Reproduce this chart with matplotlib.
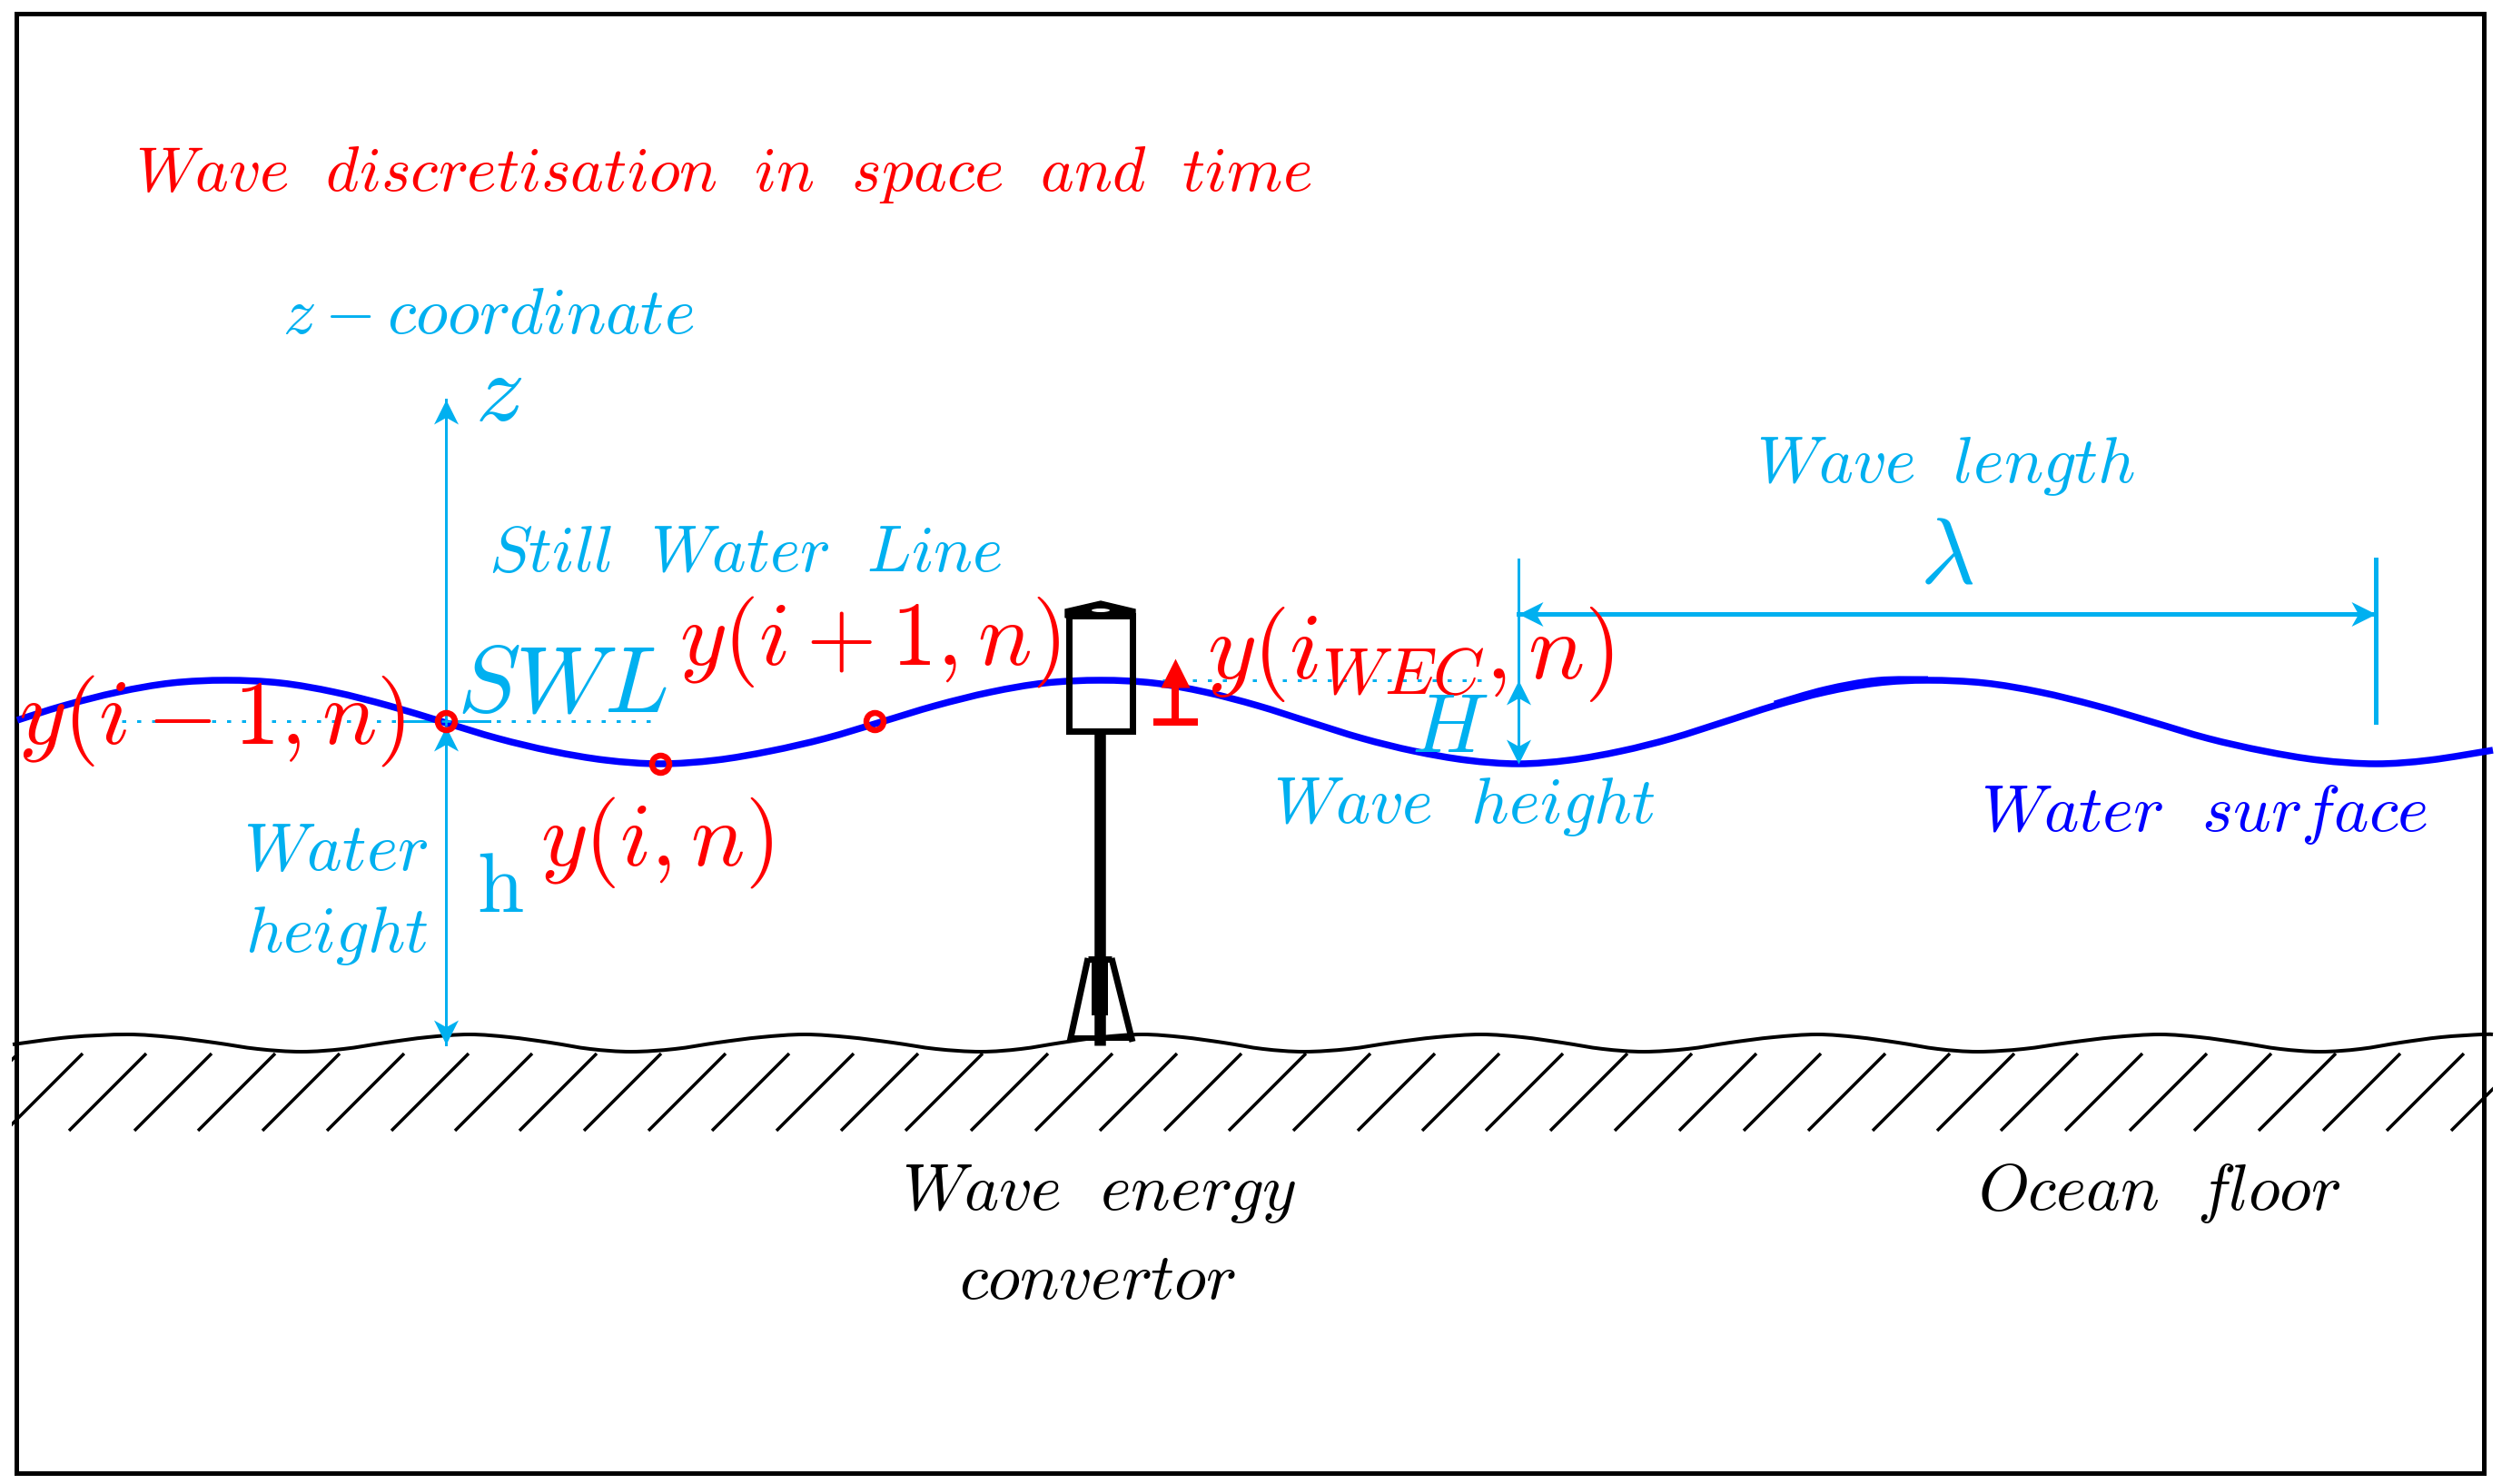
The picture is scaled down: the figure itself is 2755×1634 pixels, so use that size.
import matplotlib
matplotlib.use("Agg")
import matplotlib.pyplot as plt
from matplotlib.path import Path
from matplotlib.markers import MarkerStyle
from matplotlib.patches import Rectangle, PathPatch, Ellipse
from matplotlib.transforms import Affine2D

plt.rcParams['mathtext.fontset'] = 'cm'

CYAN = '#00B0F0'
BLUE = '#0000FF'
RED = '#FF0000'
BLACK = '#000000'

# Water surface
wave_x = [19, 70, 130, 189, 249, 309, 368, 428, 488, 548, 607, 667, 727, 788, 848, 909, 970,
          1030, 1091, 1151, 1212, 1270, 1327, 1385, 1442, 1500, 1557, 1615, 1672, 1728, 1785,
          1841, 1898, 1954, 2010, 2067, 2123, 2185, 2246, 2308, 2370, 2431, 2493, 2554, 2616,
          2675, 2745]
wave_y = [793, 777, 762, 752, 749, 752, 762, 777, 795, 813, 827, 837, 841, 837, 827, 813, 795,
          777, 762, 752, 749, 752, 762, 777, 795, 813, 827, 837, 841, 837, 827,
          813, 795, 777, 762, 752, 749, 752, 762, 777, 795, 813, 827, 837, 841,
          837, 826]
# Thickened stretch of the same curve
wave2_x = [1954, 2010, 2067, 2123]
wave2_y = [775, 759, 749, 748]

# Sea bed
floor_x = [14, 77, 140, 188, 236, 284, 332, 378, 425, 471, 517, 561, 606, 650, 695, 743, 790, 838,
           886, 934, 983, 1031, 1080, 1124, 1169, 1213, 1258, 1302, 1347, 1391, 1436, 1485, 1533,
           1582, 1631, 1676, 1720, 1765, 1810, 1858, 1905, 1953, 2001, 2045, 2090, 2134, 2178,
           2228, 2278, 2328, 2378, 2422, 2466, 2511, 2555, 2599, 2643, 2688, 2732, 2745]
floor_y = [1150, 1142, 1139, 1142, 1148, 1155, 1158, 1155, 1148, 1142, 1139, 1142, 1148, 1155, 1158, 1155, 1148, 1142,
           1139, 1142, 1148, 1155, 1158, 1155, 1148, 1142, 1139, 1142, 1148, 1155, 1158, 1155, 1148,
           1142, 1139, 1142, 1148, 1155, 1158, 1155, 1148, 1142, 1139, 1142, 1148, 1155, 1158,
           1155, 1148, 1142, 1139, 1142, 1148, 1155, 1158, 1155, 1148, 1142, 1139, 1139]
hatch_foot_x = [-65, 6, 76, 148, 218, 289, 360, 431, 501, 572, 643, 714, 784, 855, 926, 997, 1069,
                1140, 1211, 1282, 1353, 1424, 1495, 1566, 1636, 1707, 1778, 1849, 1920, 1991, 2062,
                2133, 2203, 2274, 2345, 2416, 2487, 2558, 2628, 2699]
hatch_rise = 85
hatch_foot_y = 1245

# Discretisation points on the surface
point_x = [491, 727, 963]
point_y = [794, 841, 794]

# Reference levels
crest_level = 749
still_level = 794
trough_level = 841
floor_level = 1150
lambda_y = 676
wave_start_x = 1672
wave_end_x = 2616
z_x = 491
z_top = 440

# Text: string, left, right, baseline, colour
labels = [
    (r'$Wave\ \ discretisation\ \ in\ \ space\ \ and\ \ time$', 149, 1445, 210, RED),
    (r'$z-coordinate$', 311, 765, 367, CYAN),
    (r'$z$', 523, 577, 463, CYAN),
    (r'$Still\ \ Water\ \ Line$', 538, 1104, 629, CYAN),
    (r'$SWL$', 503, 737, 783, CYAN),
    (r'$y(i+1,n)$', 748, 1169, 732, RED),
    (r'$y(i-1,n)$', 20, 448, 819, RED),
    (r'$y(i,n)$', 595, 853, 953, RED),
    (r'$\mathrm{h}$', 525, 578, 1004, CYAN),
    (r'$Water$', 268, 472, 958, CYAN),
    (r'$height$', 270, 472, 1048, CYAN),
    (r'$Wave\ \ length$', 1934, 2352, 531, CYAN),
    (r'$\lambda$', 2114, 2175, 642, CYAN),
    (r'$y(i_{WEC},n)$', 1329, 1779, 747, RED),
    (r'$H$', 1554, 1640, 828, CYAN),
    (r'$Wave\ \ height$', 1402, 1823, 906, CYAN),
    (r'$Water\ \ surface$', 2181, 2674, 915, BLUE),
    (r'$Wave\ \ energy$', 993, 1428, 1332, BLACK),
    (r'$convertor$', 1056, 1362, 1430, BLACK),
    (r'$Ocean\ \ floor$', 2178, 2578, 1332, BLACK),
]

DPI = 100
def px(v):
    return v * 72.0 / DPI

fig = plt.figure(figsize=(27.55, 16.34), dpi=DPI, facecolor='white')
ax = fig.add_axes([0, 0, 1, 1])
ax.set_xlim(0, 2755)
ax.set_ylim(1634, 0)
ax.axis('off')

# Frame
ax.add_patch(Rectangle((18, 15), 2717, 1607, fill=False, ec=BLACK, lw=px(5), zorder=1))

# Head shapes
stealth = Path([(0, 0), (-1, 0.5), (-0.72, 0), (-1, -0.5), (0, 0)],
               [Path.MOVETO, Path.LINETO, Path.LINETO, Path.LINETO, Path.CLOSEPOLY])
solid = Path([(0, 0), (-1, 0.5), (-1, -0.5), (0, 0)],
             [Path.MOVETO, Path.LINETO, Path.LINETO, Path.CLOSEPOLY])
def head(x, y, angle, color=CYAN, shape=stealth, length=27, z=3):
    ax.plot([x], [y], ls='none', color=color, mew=0, ms=px(2 * length), zorder=z,
            marker=MarkerStyle(shape, transform=Affine2D().rotate_deg(angle)))

def smooth(xs, ys, color, width, z):
    verts = [(xs[0], ys[0])]
    codes = [Path.MOVETO]
    n = len(xs)
    for i in range(n - 1):
        a, b = max(i - 1, 0), min(i + 2, n - 1)
        verts.append((xs[i] + (xs[i + 1] - xs[a]) / 6, ys[i] + (ys[i + 1] - ys[a]) / 6))
        verts.append((xs[i + 1] - (xs[b] - xs[i]) / 6, ys[i + 1] - (ys[b] - ys[i]) / 6))
        verts.append((xs[i + 1], ys[i + 1]))
        codes += [Path.CURVE4] * 3
    ax.add_patch(PathPatch(Path(verts, codes), fc='none', ec=color, lw=px(width), zorder=z))

# Sea bed and hatching
clip = Rectangle((13, 0), 2732, 1634, transform=ax.transData)
for fx in hatch_foot_x:
    ln, = ax.plot([fx, fx + hatch_rise], [hatch_foot_y, hatch_foot_y - hatch_rise],
                  color=BLACK, lw=px(3.5), solid_capstyle='butt', zorder=2)
    ln.set_clip_path(clip)
smooth(floor_x, floor_y, BLACK, 4, 2)

# Still water and crest level
ax.plot([134, 720], [still_level, still_level], color=CYAN, lw=px(3), ls=(0, (1.5, 4)), zorder=2)
ax.plot([443, 539], [still_level, still_level], color=CYAN, lw=px(3), zorder=2)
ax.plot([1247, 1643], [crest_level, crest_level], color=CYAN, lw=px(3), ls=(0, (1.5, 4)), zorder=2)

# Water surface
smooth(wave_x, wave_y, BLUE, 7.5, 4)
smooth(wave2_x, wave2_y, BLUE, 7, 4)

# z axis and water height
ax.plot([z_x, z_x], [z_top, floor_level], color=CYAN, lw=px(3), zorder=3)
head(z_x, z_top, 90)
head(z_x, still_level + 6, 90)
head(z_x, floor_level, -90)

# Wave length and wave height
ax.plot([wave_start_x, wave_end_x], [lambda_y, lambda_y], color=CYAN, lw=px(5), zorder=3)
ax.plot([wave_start_x, wave_start_x], [616, trough_level], color=CYAN, lw=px(3), zorder=3)
ax.plot([wave_end_x, wave_end_x], [616, 795], color=CYAN, lw=px(5), zorder=3)
head(wave_start_x, lambda_y, 180)
head(wave_end_x, lambda_y, 0)
head(wave_start_x, crest_level, 90)
head(wave_start_x, trough_level, -90, z=5)

# Wave energy converter
wec = dict(color=BLACK, zorder=5, solid_capstyle='butt')
ax.add_patch(Rectangle((1177, 678), 70, 127, fill=False, ec=BLACK, lw=px(7), zorder=5))
ax.fill([1173, 1212, 1250, 1250, 1173], [671, 662, 671, 680, 680], color=BLACK, zorder=5)
ax.add_patch(Ellipse((1212, 672), 20, 4, fc='white', ec='none', zorder=6))
ax.plot([1211, 1211], [807, 1151], lw=px(12.5), **wec)
ax.plot([1211, 1211], [1055, 1118], lw=px(18), **wec)
ax.plot([1198, 1178], [1055, 1147], lw=px(7), **wec)
ax.plot([1224, 1247], [1055, 1147], lw=px(7), **wec)
ax.plot([1198, 1224], [1056, 1056], lw=px(7), **wec)
ax.plot([1178, 1247], [1143, 1143], lw=px(6), **wec)

# Red heave arrow
ax.plot([1294, 1294], [794, 750], color=RED, lw=px(8), solid_capstyle='butt', zorder=6)
ax.plot([1270, 1319], [795, 795], color=RED, lw=px(8), solid_capstyle='butt', zorder=6)
head(1294, 725, 90, color=RED, shape=solid, length=32, z=6)

# Discretisation markers
ax.plot(point_x, point_y, ls='none', marker='o', ms=px(19), mfc='none', mec=RED, mew=px(6.5), zorder=6)
ax.plot(point_x[:1], point_y[:1], ls='none', marker='+', ms=px(10), mec=CYAN, mew=px(2.5), zorder=6)

# Text, scaled so each string spans the width it has in the picture
fig.canvas.draw()
rend = fig.canvas.get_renderer()
for s, x0, x1, base, col in labels:
    t = ax.text(x0, base, s, color=col, fontsize=40, ha='left', va='baseline', zorder=7)
    w = t.get_window_extent(rend).width
    t.set_fontsize(40 * (x1 - x0) / w)

fig.savefig('out.png', dpi=DPI, facecolor='white')
